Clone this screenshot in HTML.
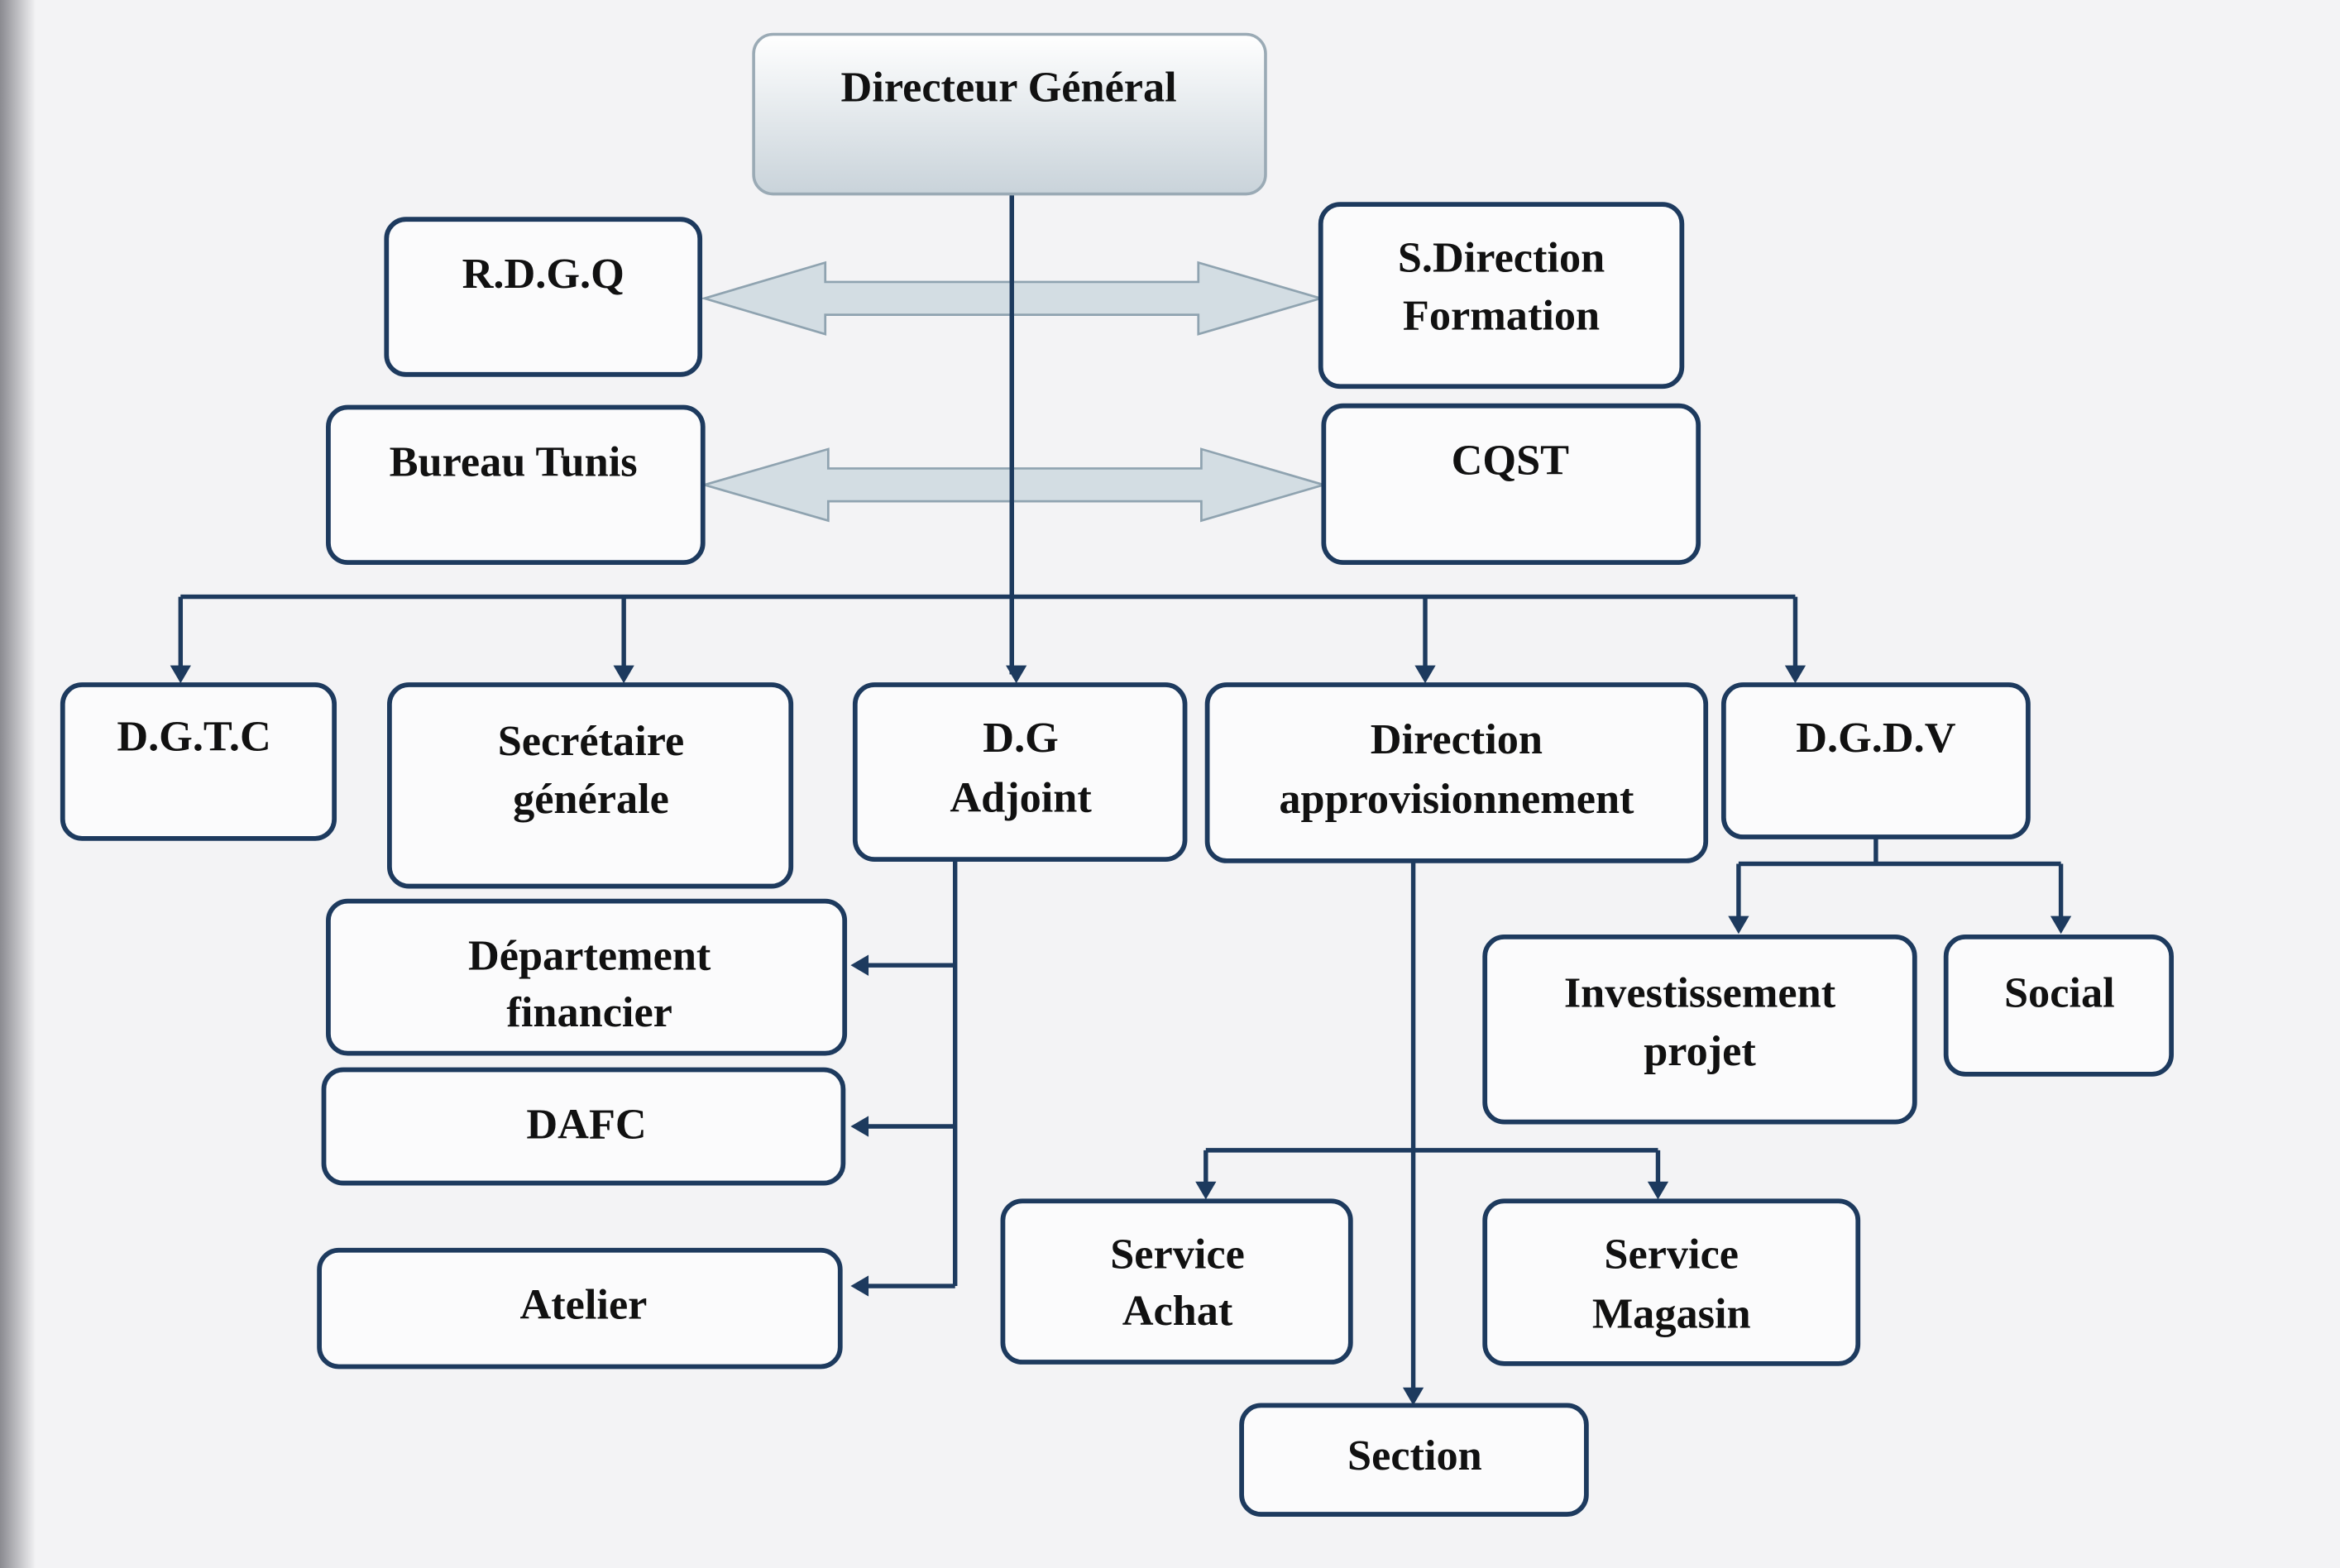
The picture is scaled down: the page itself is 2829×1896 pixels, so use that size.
<!DOCTYPE html>
<html><head><meta charset="utf-8"><style>
html,body{margin:0;padding:0;background:#f3f3f5;}
svg{display:block;}
text{font-family:"Liberation Serif",serif;font-weight:bold;font-size:29px;fill:#111;text-anchor:middle;}
.b{fill:#fbfbfc;stroke:#1d3a5e;stroke-width:3.2;}
.l{stroke:#1d3a5e;stroke-width:3;fill:none;}
.a{fill:#1d3a5e;}
.d{fill:#d3dde3;stroke:#8fa3b0;stroke-width:1.5;}
</style></head><body>
<svg width="2829" height="1896" viewBox="0 0 1568 1051" preserveAspectRatio="none">
<defs>
<linearGradient id="g" x1="0" y1="0" x2="0" y2="1"><stop offset="0" stop-color="#ffffff"/><stop offset="1" stop-color="#c9d3da"/></linearGradient>
<linearGradient id="s" x1="0" y1="0" x2="1" y2="0"><stop offset="0" stop-color="#8a8a90"/><stop offset="1" stop-color="#f3f3f5"/></linearGradient>
</defs>
<rect x="0" y="0" width="1568" height="1051" fill="#f3f3f5"/>
<rect x="0" y="0" width="24" height="1051" fill="url(#s)"/>
<!-- main lines -->
<path class="l" d="M678 130 V452"/>
<path class="l" d="M121 400 H1203"/>
<path class="l" d="M121 400V450 M418 400V450 M955 400V450 M1203 400V450"/>
<g class="a">
<path d="M114 446h14l-7 12z"/><path d="M411 446h14l-7 12z"/><path d="M674 446h14l-7 12z"/><path d="M948 446h14l-7 12z"/><path d="M1196 446h14l-7 12z"/>
</g>
<!-- double arrows -->
<path class="d" d="M472 200 L553 176 L553 189 L803 189 L803 176 L885 200 L803 224 L803 211 L553 211 L553 224 Z"/>
<path class="d" d="M472 325 L555 301 L555 314 L805 314 L805 301 L887 325 L805 349 L805 336 L555 336 L555 349 Z"/>
<path class="l" d="M678 130 V452"/>
<!-- DG adjoint branch -->
<path class="l" d="M640 576 V862 M640 647H580 M640 755H580 M640 862H580"/>
<g class="a"><path d="M570 647l12-7v14z"/><path d="M570 755l12-7v14z"/><path d="M570 862l12-7v14z"/></g>
<!-- DGDV branch -->
<path class="l" d="M1257 561V579 M1165 579H1381 M1165 579V616 M1381 579V616"/>
<g class="a"><path d="M1158 614h14l-7 12z"/><path d="M1374 614h14l-7 12z"/></g>
<!-- appro branch -->
<path class="l" d="M947 577V932 M808 771H1111 M808 771V793 M1111 771V793"/>
<g class="a"><path d="M801 792h14l-7 12z"/><path d="M1104 792h14l-7 12z"/><path d="M940 930h14l-7 12z"/></g>
<!-- boxes -->
<rect x="505" y="23" width="343" height="107" rx="13" fill="url(#g)" stroke="#9aaab5" stroke-width="2"/>
<text x="676" y="68">Directeur Général</text>
<rect class="b" x="259" y="147" width="210" height="104" rx="13"/><text x="364" y="193">R.D.G.Q</text>
<rect class="b" x="885" y="137" width="242" height="122" rx="13"/><text x="1006" y="182">S.Direction</text><text x="1006" y="221">Formation</text>
<rect class="b" x="220" y="273" width="251" height="104" rx="13"/><text x="344" y="319">Bureau Tunis</text>
<rect class="b" x="887" y="272" width="251" height="105" rx="13"/><text x="1012" y="318">CQST</text>
<rect class="b" x="42" y="459" width="182" height="103" rx="13"/><text x="130" y="503">D.G.T.C</text>
<rect class="b" x="261" y="459" width="269" height="135" rx="13"/><text x="396" y="506">Secrétaire</text><text x="396" y="545">générale</text>
<rect class="b" x="573" y="459" width="221" height="117" rx="13"/><text x="684" y="504">D.G</text><text x="684" y="544">Adjoint</text>
<rect class="b" x="809" y="459" width="334" height="118" rx="13"/><text x="976" y="505">Direction</text><text x="976" y="545">approvisionnement</text>
<rect class="b" x="1155" y="459" width="204" height="102" rx="13"/><text x="1257" y="504">D.G.D.V</text>
<rect class="b" x="220" y="604" width="346" height="102" rx="13"/><text x="395" y="650">Département</text><text x="395" y="688">financier</text>
<rect class="b" x="217" y="717" width="348" height="76" rx="13"/><text x="393" y="763">DAFC</text>
<rect class="b" x="214" y="838" width="349" height="78" rx="13"/><text x="391" y="884">Atelier</text>
<rect class="b" x="995" y="628" width="288" height="124" rx="13"/><text x="1139" y="675">Investissement</text><text x="1139" y="714">projet</text>
<rect class="b" x="1304" y="628" width="151" height="92" rx="13"/><text x="1380" y="675">Social</text>
<rect class="b" x="672" y="805" width="233" height="108" rx="13"/><text x="789" y="850">Service</text><text x="789" y="888">Achat</text>
<rect class="b" x="995" y="805" width="250" height="109" rx="13"/><text x="1120" y="850">Service</text><text x="1120" y="890">Magasin</text>
<rect class="b" x="832" y="942" width="231" height="73" rx="13"/><text x="948" y="985">Section</text>
</svg>
</body></html>
